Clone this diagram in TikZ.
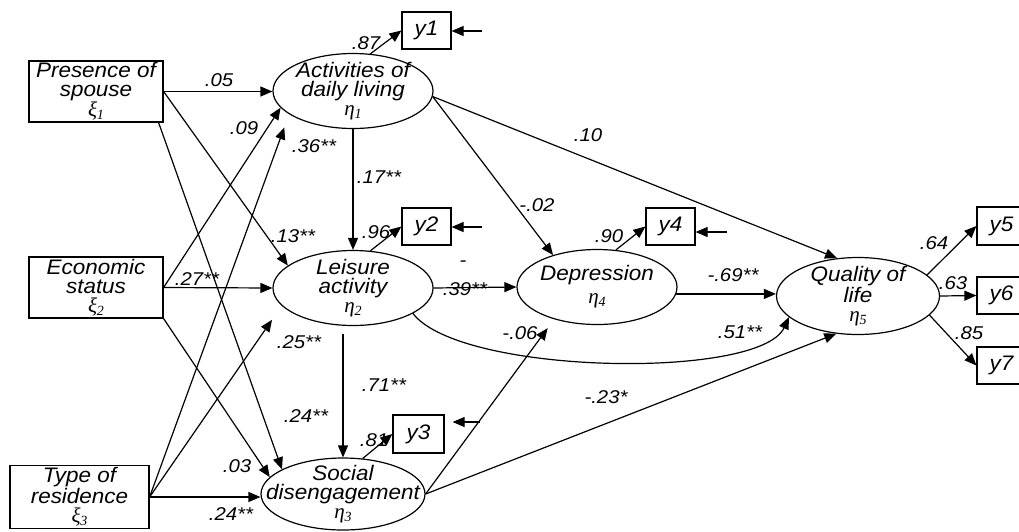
\documentclass[tikz,border=0pt]{standalone}
\usepackage{fontspec}
\setmainfont{Liberation Sans}
\newfontfamily\grfont{Liberation Serif}
\newfontfamily\nodeff{Liberation Sans}[FakeStretch=1.07]
\newfontfamily\labff{Liberation Sans}[FakeStretch=1.1]
\usetikzlibrary{shapes.geometric,arrows.meta,calc}
\newcommand\nodefont{\nodeff\fontsize{21}{19}\selectfont\itshape}
\newcommand\indfont{\nodeff\fontsize{21}{21}\selectfont\itshape}
\newcommand\labfont{\labff\fontsize{18.5}{18.5}\selectfont\itshape}
\newcommand\gk[2]{{\grfont\itshape\fontsize{21}{19}\selectfont #1\raisebox{-3pt}{\fontsize{14}{14}\selectfont #2}}}
\tikzset{
 lat/.style={ellipse,draw,line width=1.2pt,inner sep=0pt,minimum width=160pt,minimum height=75pt},
 ltext/.style={align=center,font=\nodefont,inner sep=0pt},
 obs/.style={rectangle,draw,line width=1.2pt,inner sep=0pt,align=center,font=\nodefont},
 ind/.style={rectangle,draw,line width=1.2pt,inner sep=0pt,minimum width=49pt,minimum height=37pt,font=\indfont},
 arr/.style={line width=1.2pt,-{Triangle[length=12pt,width=10pt]}},
 lab/.style={font=\labfont,inner sep=0pt},
}
\begin{document}
\begin{tikzpicture}[x=1pt,y=-1pt]
\useasboundingbox (0,0) rectangle (1019,531);
\clip (0,0) rectangle (1019,531);
% exogenous boxes
\node[obs,minimum width=134pt,minimum height=61pt] (xi1) at (96,91.5) {Presence of\\spouse\\\gk{ξ}{1}};
\node[obs,minimum width=134pt,minimum height=61pt] (xi2) at (96,287.5) {Economic\\status\\\gk{ξ}{2}};
\node[obs,minimum width=139pt,minimum height=63pt] (xi3) at (79.5,497) {Type of\\residence\\\gk{ξ}{3}};
% latent
\node[lat,label={[ltext]center:{Activities of\\daily living\\\gk{η}{1}}}] (adl) at (353,91) {};
\node[lat,label={[ltext]center:{Leisure\\activity\\\gk{η}{2}}}] (lei) at (353,288) {};
\node[lat,minimum width=164pt,minimum height=72pt,label={[ltext]center:{Social\\disengagement\\\gk{η}{3}}}] (soc) at (343,494) {};
\node[lat,label={[ltext]center:{Depression\\[4pt]\gk{η}{4}}}] (dep) at (597,287) {};
\node[lat,minimum width=163pt,minimum height=77pt,label={[ltext]center:{Quality of\\life\\\gk{η}{5}}}] (qol) at (858,296) {};
% indicators
\node[ind] (y1) at (426.5,30.5) {y1};
\node[ind] (y2) at (426.5,226.5) {y2};
\node[ind,minimum width=51pt,minimum height=38pt] (y3) at (418.5,434) {y3};
\node[ind] (y4) at (670.5,226.5) {y4};
\node[ind,minimum height=38pt] (y5) at (1001.5,226) {y5};
\node[ind] (y6) at (1001.5,295.5) {y6};
\node[ind] (y7) at (1001.5,365.5) {y7};
% error terms
\coordinate (e1) at (482,31);
\coordinate (e2) at (482,227);
\coordinate (e3) at (480,422);
\coordinate (e4) at (727,232);
\draw[arr] (e1) -- (e1 -| y1.east);
\draw[arr] (e2) -- (e2 -| y2.east);
\draw[arr] (e3) -- ([xshift=8pt]e3 -| y3.east);
\draw[arr] (e4) -- (e4 -| y4.east);
% exogenous paths
\draw[arr] (xi1.east) -- (xi1.east -| adl.west);
\draw[arr] (xi1.east) -- (lei.161);
\draw[arr] ([xshift=-5pt]xi1.south east) -- (soc.158);
\draw[arr] (xi2.east) -- (adl.193);
\draw[arr] (xi2.east) -- (lei.west);
\draw[arr] (xi2.south east) -- (soc.167);
\draw[arr,shorten >=14pt] (xi3.east) -- (adl.200);
\draw[arr,shorten >=17pt] (xi3.east) -- (lei.194);
\draw[arr] (xi3.east) -- (xi3.east -| soc.west);
% structural paths
\draw[arr] (adl.south) -- (lei.north);
\draw[arr,shorten <=8pt] (soc.north |- lei.south) -- (soc.north);
\draw[arr] (lei.east) -- (dep.west);
\draw[arr] (adl.-4) -- (dep.144);
\draw[arr] (adl.-4) -- (qol.119);
\draw[arr] (dep.-5.5) -- (dep.-5.5 -| qol.west);
\draw[arr] (lei.-23) .. controls (460,375) and (760,380) .. (qol.197);
\draw[arr,shorten >=11pt] (soc.east) -- (dep.217);
\draw[arr] (soc.east) -- (qol.240);
% loadings
\draw[arr] (adl.65) -- (y1.west);
\draw[arr] (lei.65) -- (y2.west);
\draw[arr] (soc.61) -- (y3.west);
\draw[arr] (dep.63) -- (y4.west);
\draw[arr] (qol.17) -- (y5.west);
\draw[arr] (qol.east) -- (y6.west);
\draw[arr] (qol.-15) -- (y7.west);
% labels
\node[lab] (l1) at (219,80) {.05};
\node[lab] (l2) at (293,236) {.13**};
\node[lab] (l3) at (306,416) {.24**};
\node[lab] (l4) at (244,128) {.09};
\node[lab] (l5) at (197,279) {.27**};
\node[lab] (l6) at (237,466) {.03};
\node[lab] (l7) at (314,146) {.36**};
\node[lab] (l8) at (299,342) {.25**};
\node[lab] (l9) at (231,514) {.24**};
\node[lab] (l10) at (379,177) {.17**};
\node[lab] (l11) at (384,385) {.71**};
\node[lab] (l12) at (366,43) {.87};
\node[lab] (l13) at (376,232) {.96};
\node[lab] (l14) at (374,440) {.81};
\node[lab] (l15) at (609,236) {.90};
\node[lab] (l16) at (463,264) {-};
\node[lab] (l17) at (465,289) {.39**};
\node[lab] (l18) at (537,205) {-.02};
\node[lab] (l19) at (588,135) {.10};
\node[lab] (l20) at (733,275) {-.69**};
\node[lab] (l21) at (740,332) {.51**};
\node[lab] (l22) at (520,333) {-.06};
\node[lab] (l23) at (606,397) {-.23*};
\node[lab] (l24) at (934,243) {.64};
\node[lab] (l25) at (953,283) {.63};
\node[lab] (l26) at (969,333) {.85};
\end{tikzpicture}
\end{document}
